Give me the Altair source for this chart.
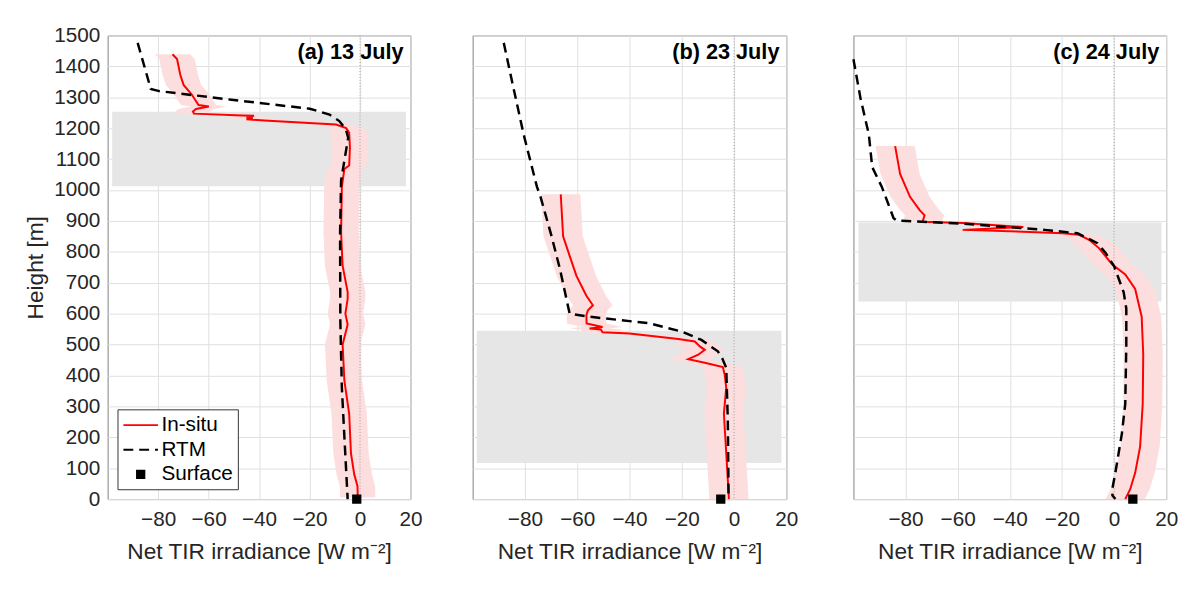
import altair as alt
import pandas as pd

FONT = "Liberation Sans"
XMIN, XMAX = -100, 20
YMIN, YMAX = 0, 1500
X_TICKS = [-80, -60, -40, -20, 0, 20]
Y_TICKS = list(range(0, 1501, 100))

panel_titles = ["(a) 13 July", "(b) 23 July", "(c) 24 July"]
panel_widths = [307, 318, 317]
PANEL_H = 470
series_names = ["In-situ", "RTM", "Surface"]

# ---- In-situ profiles (height [m], net TIR [W m-2]) ----
a_insitu_h = [1439, 1424, 1372, 1340, 1308, 1275, 1270, 1262, 1254, 1247, 1241, 1240, 1236, 1233, 1229, 1225,
              1212, 1200, 1185, 1137, 1079, 1068, 1010, 862, 755, 670, 648, 600, 565, 500, 383, 276, 149, 80, 42, 5]
a_insitu_v = [-74.3, -72.5, -71.2, -69.9, -66.6, -64.0, -59.9, -65.0, -66.2, -65.8, -46.5, -42.0, -45.0, -42.5,
              -45.0, -38.0, -9.5, -5.5, -4.3, -4.0, -4.3, -6.2, -7.2, -7.5, -6.9, -4.9, -4.9, -5.8, -4.9, -6.9,
              -6.2, -4.3, -3.6, -2.3, -1.0, -0.9]

b_insitu_h = [986, 850, 787, 722, 658, 627, 611, 595, 568, 557, 552, 549, 540, 536, 518, 510, 494, 483, 467, 453,
              441, 427, 403, 361, 276, 149, 21, 0]
b_insitu_v = [-66.3, -65.4, -62.9, -60.3, -56.5, -54.0, -55.9, -56.5, -56.4, -50.3, -55.3, -51.0, -50.3, -40.0,
              -21.3, -15.0, -13.1, -11.2, -13.7, -17.5, -11.2, -4.3, -3.6, -3.0, -3.9, -3.0, -2.1, -2.0]

c_insitu_h = [1142, 1052, 978, 935, 918, 897, 893, 880, 871, 865, 860, 855, 839, 812, 786, 760, 727, 680, 590,
              467, 308, 170, 85, 32, 0]
c_insitu_v = [-84.0, -82.1, -78.3, -74.6, -72.7, -73.5, -58.1, -34.8, -58.1, -35.0, -19.7, -13.4, -9.6, -5.8,
              -3.3, -0.8, 4.3, 8.1, 10.6, 11.2, 11.0, 10.0, 8.1, 6.2, 4.3]

# in-situ uncertainty (half width of the shaded band) per panel
insitu_unc = [7.0, 7.5, 7.5]

# ---- RTM profiles ----
a_rtm_h = [1476, 1327, 1320, 1292, 1263, 1244, 1223, 1196, 1169, 1095, 1031, 862, 575, 361, 202, 0]
a_rtm_v = [-88.1, -82.9, -79.6, -51.0, -19.9, -12.1, -8.2, -5.6, -4.7, -6.2, -7.5, -7.9, -7.8, -7.2, -6.2, -4.9]

b_rtm_h = [1476, 1350, 1180, 1010, 983, 850, 744, 600, 590, 569, 542, 515, 478, 455, 425, 255, 0]
b_rtm_v = [-88.1, -84.9, -80.5, -75.4, -74.2, -69.8, -66.6, -62.9, -55.3, -32.6, -20.0, -12.5, -6.2, -4.5,
           -3.0, -2.4, -2.1]

c_rtm_h = [1423, 1297, 1180, 1074, 1010, 909, 901, 891, 871, 860, 828, 797, 754, 669, 616, 499, 308, 212, 85,
           27, 12, 0]
c_rtm_v = [-100.0, -97.3, -94.1, -92.8, -89.1, -84.6, -83.4, -58.1, -26.6, -14.0, -6.4, -3.3, 0.0, 3.7, 4.7,
           4.7, 4.3, 3.0, 0.5, -0.8, -0.6, 0.5]

# ---- cloud layers (grey boxes) ----
cloud_base = [1012, 117, 639]
cloud_top = [1253, 545, 895]
cloud_left = [-98.2, -98.4, -98.1]
cloud_right = [18.2, 18.1, 18.2]

# ---- surface values ----
surface_v = [-1.3, -5.1, 7.2]
surface_h = [0, 0, 0]

insitu_h = [a_insitu_h, b_insitu_h, c_insitu_h]
insitu_v = [a_insitu_v, b_insitu_v, c_insitu_v]
rtm_h = [a_rtm_h, b_rtm_h, c_rtm_h]
rtm_v = [a_rtm_v, b_rtm_v, c_rtm_v]

LINE_PATH = "M-1.75,0H1.75"
SQUARE_PATH = "M-0.37,-0.37H0.37V0.37H-0.37Z"
SYM_SIZE = 400
XTITLE = "Net TIR irradiance [W m\u207b\u00b2]"


def panel(i):
    W = panel_widths[i]
    xs = alt.Scale(domain=[XMIN, XMAX], nice=False, zero=False)
    ys = alt.Scale(domain=[YMIN, YMAX], nice=False, zero=False)
    x_axis = alt.Axis(values=X_TICKS, title=XTITLE, format="d")
    if i == 0:
        y_axis = alt.Axis(values=Y_TICKS, title="Height [m]", format="d")
    else:
        y_axis = alt.Axis(values=Y_TICKS, title=None, labels=False)

    def X(field):
        return alt.X(field, scale=xs, axis=x_axis)

    def Y(field):
        return alt.Y(field, scale=ys, axis=y_axis)

    cloud_df = pd.DataFrame({"x1": [cloud_left[i]], "x2": [cloud_right[i]],
                             "y1": [cloud_base[i]], "y2": [cloud_top[i]]})
    cloud = alt.Chart(cloud_df).mark_rect(color="#e6e6e6").encode(
        x=X("x1:Q"), x2="x2:Q", y=Y("y1:Q"), y2="y2:Q")

    u = insitu_unc[i]
    ins_df = pd.DataFrame({"idx": range(len(insitu_h[i])), "h": insitu_h[i], "v": insitu_v[i]})
    ins_df["lo"] = ins_df["v"] - u
    ins_df["hi"] = ins_df["v"] + u

    band = alt.Chart(ins_df).mark_area(orient="horizontal", color="#fcdede", opacity=1).encode(
        x=X("lo:Q"), x2=alt.X2("hi:Q"), y=Y("h:Q"))

    zero = alt.Chart(pd.DataFrame({"z": [0]})).mark_rule(
        color="#9a9a9a", strokeDash=[1, 2], strokeWidth=1).encode(x=X("z:Q"))

    ins_line = alt.Chart(ins_df).mark_line(color="#ff0000", strokeWidth=2).encode(
        x=X("v:Q"), y=Y("h:Q"), order="idx:Q")

    rtm_df = pd.DataFrame({"idx": range(len(rtm_h[i])), "h": rtm_h[i], "v": rtm_v[i]})
    rtm_line = alt.Chart(rtm_df).mark_line(color="black", strokeWidth=2.5, strokeDash=[10, 6]).encode(
        x=X("v:Q"), y=Y("h:Q"), order="idx:Q")

    surf_df = pd.DataFrame({"v": [surface_v[i]], "h": [surface_h[i]], "series": ["Surface"]})
    if i == 0:
        leg = alt.Legend(title=None, orient="bottom-left", offset=10, symbolSize=SYM_SIZE,
                         symbolStrokeWidth=2, labelFontSize=21, labelFont=FONT, labelColor="#000000",
                         strokeColor="#333333", fillColor="white", padding=5, rowPadding=4,
                         symbolOffset=7.5, labelOffset=10)
        surf = alt.Chart(surf_df).mark_point(filled=True, size=SYM_SIZE, opacity=1, strokeWidth=2).encode(
            x=X("v:Q"), y=Y("h:Q"),
            color=alt.Color("series:N", scale=alt.Scale(domain=series_names,
                                                        range=["#ff0000", "#000000", "#000000"]), legend=leg),
            stroke=alt.Stroke("series:N", scale=alt.Scale(domain=series_names,
                                                          range=["#ff0000", "#000000", "#000000"]), legend=leg),
            shape=alt.Shape("series:N", scale=alt.Scale(domain=series_names,
                                                        range=[LINE_PATH, LINE_PATH, SQUARE_PATH]), legend=leg),
            strokeDash=alt.StrokeDash("series:N", scale=alt.Scale(domain=series_names,
                                                                  range=[[1, 0], [10, 6], [1, 0]]), legend=leg),
        )
    else:
        surf = alt.Chart(surf_df).mark_point(filled=True, size=SYM_SIZE, opacity=1, strokeWidth=2,
                                             shape=SQUARE_PATH, color="black", stroke="black").encode(
            x=X("v:Q"), y=Y("h:Q"))

    title = alt.Chart(pd.DataFrame({"t": [panel_titles[i]]})).mark_text(
        align="right", baseline="alphabetic", fontSize=22, fontWeight="bold", font=FONT,
        color="#000000").encode(x=alt.value(W - 7), y=alt.value(24), text="t:N")

    return alt.layer(cloud, band, zero, ins_line, rtm_line, surf, title).properties(
        width=W, height=PANEL_H)


chart = alt.hconcat(panel(0), panel(1), panel(2), spacing=49).resolve_scale(
    color="independent", stroke="independent", shape="independent", strokeDash="independent"
).properties(
    padding={"left": 16, "top": 12, "right": 0, "bottom": 0}
).configure_view(
    stroke="#808080", strokeWidth=1
).configure_axis(
    domain=False, ticks=False, grid=True, gridColor="#e0e0e0", gridWidth=1,
    labelFont=FONT, titleFont=FONT, labelFontSize=21, titleFontSize=23,
    labelColor="#262626", titleColor="#262626", titleFontWeight="normal",
    labelOverlap=False, labelFlush=False, labelBound=False
).configure_axisX(
    labelPadding=10, titlePadding=11
).configure_axisY(
    labelPadding=8, titlePadding=6
)

chart.save("out.html", embed_options={"renderer": "svg", "actions": False})
